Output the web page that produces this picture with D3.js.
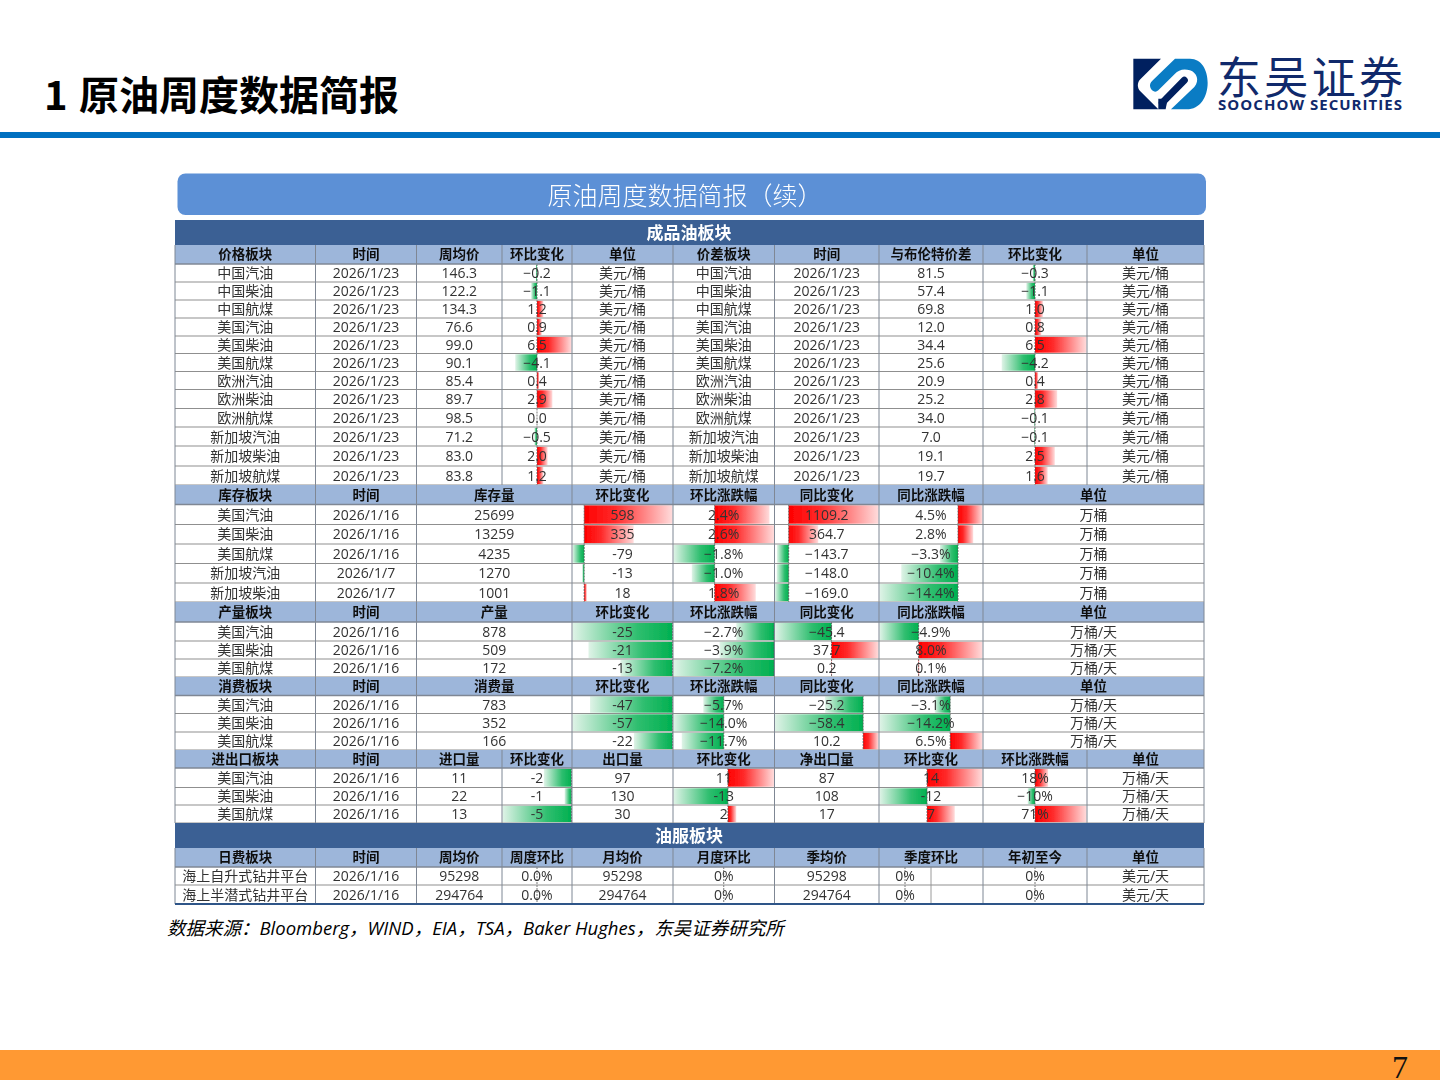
<!DOCTYPE html>
<html><head><meta charset="utf-8">
<script src="https://cdn.jsdelivr.net/npm/d3@7/dist/d3.min.js"></script>
<style>
html,body{margin:0;padding:0;background:#fff}
svg{display:block}
text{font-family:"Open Sans","Noto Sans CJK SC",sans-serif}
</style></head><body>
<script>
// ---------- data ----------
const priceNames=['中国汽油','中国柴油','中国航煤','美国汽油','美国柴油','美国航煤','欧洲汽油','欧洲柴油','欧洲航煤','新加坡汽油','新加坡柴油','新加坡航煤'];
const priceAvg=[146.3,122.2,134.3,76.6,99.0,90.1,85.4,89.7,98.5,71.2,83.0,83.8];
const priceChange=[-0.2,-1.1,1.2,0.9,6.5,-4.1,0.4,2.9,0.0,-0.5,2.0,1.2];
const spreadValue=[81.5,57.4,69.8,12.0,34.4,25.6,20.9,25.2,34.0,7.0,19.1,19.7];
const spreadChange=[-0.3,-1.1,1.0,0.8,6.5,-4.2,0.4,2.8,-0.1,-0.1,2.5,1.6];

const stockNames=['美国汽油','美国柴油','美国航煤','新加坡汽油','新加坡柴油'];
const stockDates=['2026/1/16','2026/1/16','2026/1/16','2026/1/7','2026/1/7'];
const stockLevel=[25699,13259,4235,1270,1001];
const stockWow=[598,335,-79,-13,18];
const stockWowPct=[2.4,2.6,-1.8,-1.0,1.8];
const stockYoy=[1109.2,364.7,-143.7,-148.0,-169.0];
const stockYoyPct=[4.5,2.8,-3.3,-10.4,-14.4];

const usNames=['美国汽油','美国柴油','美国航煤'];
const prodLevel=[878,509,172];
const prodWow=[-25,-21,-13];
const prodWowPct=[-2.7,-3.9,-7.2];
const prodYoy=[-45.4,37.7,0.2];
const prodYoyPct=[-4.9,8.0,0.1];

const consLevel=[783,352,166];
const consWow=[-47,-57,-22];
const consWowPct=[-5.7,-14.0,-11.7];
const consYoy=[-25.2,-58.4,10.2];
const consYoyPct=[-3.1,-14.2,6.5];

const importLevel=[11,22,13];
const importChange=[-2,-0.5,-5];
const importChangeLabels=['-2','-1','-5'];
const exportLevel=[97,130,30];
const exportChange=[11,-13,2];
const netLevel=[87,108,17];
const netChange=[14,-12,7];
const netPct=[18,-10,71];

const rigNames=['海上自升式钻井平台','海上半潜式钻井平台'];
const rigWeek=[95298,294764];
const rigWeekPct=[0,0];
const rigMonth=[95298,294764];
const rigMonthPct=[0,0];
const rigQuarter=[95298,294764];
const rigQuarterPct=[0,0];
const rigYtdPct=[0,0];

// ---------- layout ----------
const colEdges=[175,315.5,416.5,502,572,673,774.5,879,983,1087,1204];
const C={full:[[0,1],[1,2],[2,3],[3,4],[4,5],[5,6],[6,7],[7,8],[8,9],[9,10]],
         merged:[[0,1],[1,2],[2,4],[4,5],[5,6],[6,7],[7,8],[8,10]]};
const f1=d3.format('.1f'), p1=v=>d3.format('.1f')(v)+'%', p0=v=>d3.format('.0f')(v)+'%', s=v=>String(v);
const rep=(v,n)=>Array(n).fill(v);

const sections=[
 {band:'成品油板块',bandY:[220,245]},
 {headY:[245,264],spans:C.full,heads:['价格板块','时间','周均价','环比变化','单位','价差板块','时间','与布伦特价差','环比变化','单位'],
  rowEdges:[264,282,300,318,336,353.5,371.5,389.5,408.5,427,446,466,485],
  cols:[{t:priceNames},{t:rep('2026/1/23',12)},{t:priceAvg.map(f1)},{t:priceChange.map(f1),bar:priceChange,sym:true},{t:rep('美元/桶',12)},
        {t:priceNames},{t:rep('2026/1/23',12)},{t:spreadValue.map(f1)},{t:spreadChange.map(f1),bar:spreadChange,sym:true,symMax:6.5},{t:rep('美元/桶',12)}]},
 {headY:[485,504.5],spans:C.merged,heads:['库存板块','时间','库存量','环比变化','环比涨跌幅','同比变化','同比涨跌幅','单位'],
  rowEdges:[504.5,524.5,544,563.5,583,602],
  cols:[{t:stockNames},{t:stockDates},{t:stockLevel.map(s)},{t:stockWow.map(s),bar:stockWow},{t:stockWowPct.map(p1),bar:stockWowPct},
        {t:stockYoy.map(f1),bar:stockYoy},{t:stockYoyPct.map(p1),bar:stockYoyPct},{t:rep('万桶',5)}]},
 {headY:[602,622],spans:C.merged,heads:['产量板块','时间','产量','环比变化','环比涨跌幅','同比变化','同比涨跌幅','单位'],
  rowEdges:[622,641,659,677],
  cols:[{t:usNames},{t:rep('2026/1/16',3)},{t:prodLevel.map(s)},{t:prodWow.map(s),bar:prodWow},{t:prodWowPct.map(p1),bar:prodWowPct},
        {t:prodYoy.map(f1),bar:prodYoy},{t:prodYoyPct.map(p1),bar:prodYoyPct},{t:rep('万桶/天',3)}]},
 {headY:[677,695.5],spans:C.merged,heads:['消费板块','时间','消费量','环比变化','环比涨跌幅','同比变化','同比涨跌幅','单位'],
  rowEdges:[695.5,713.5,732,750],
  cols:[{t:usNames},{t:rep('2026/1/16',3)},{t:consLevel.map(s)},{t:consWow.map(s),bar:consWow},{t:consWowPct.map(p1),bar:consWowPct,sym:true},
        {t:consYoy.map(f1),bar:consYoy},{t:consYoyPct.map(p1),bar:consYoyPct},{t:rep('万桶/天',3)}]},
 {headY:[750,768],spans:C.full,heads:['进出口板块','时间','进口量','环比变化','出口量','环比变化','净出口量','环比变化','环比涨跌幅','单位'],
  rowEdges:[768,787.5,805,823],
  cols:[{t:usNames},{t:rep('2026/1/16',3)},{t:importLevel.map(s)},{t:importChangeLabels,bar:importChange},{t:exportLevel.map(s)},
        {t:exportChange.map(s),bar:exportChange},{t:netLevel.map(s)},{t:netChange.map(s),bar:netChange},{t:netPct.map(p0),bar:netPct,sym:true},{t:rep('万桶/天',3)}]},
 {band:'油服板块',bandY:[823,848]},
 {headY:[848,867],spans:C.full,heads:['日费板块','时间','周均价','周度环比','月均价','月度环比','季均价','季度环比','年初至今','单位'],
  rowEdges:[867,885,904],
  cols:[{t:rigNames},{t:rep('2026/1/16',2)},{t:rigWeek.map(s)},{t:rigWeekPct.map(p1),bar:rigWeekPct,sym:true},{t:rigMonth.map(s)},
        {t:rigMonthPct.map(p0),bar:rigMonthPct,sym:true},{t:rigQuarter.map(s)},{t:rigQuarterPct.map(p0),bar:rigQuarterPct,sym:true,half:true},{t:rigYtdPct.map(p0),bar:rigYtdPct,sym:true},{t:rep('美元/天',2)}]}
];

// ---------- drawing ----------
const svg=d3.select('body').append('svg').attr('width',1440).attr('height',1080).attr('viewBox','0 0 1440 1080');
const defs=svg.append('defs');
const blur=defs.append('filter').attr('id','soft').attr('x','-2%').attr('y','-2%').attr('width','104%').attr('height','104%');
blur.append('feGaussianBlur').attr('stdDeviation',0.4);
const gradient=(id,stops)=>{const g=defs.append('linearGradient').attr('id',id);
  stops.forEach(([o,c])=>g.append('stop').attr('offset',o).attr('stop-color',c));};
gradient('redBar',[[0,'#ff0000'],[0.35,'#ff2a2a'],[1,'#ffdcdc']]);
gradient('greenBar',[[0,'#dff3e7'],[0.65,'#2fbe6f'],[1,'#00b050']]);

// page furniture
svg.append('text').attr('x',44).attr('y',110).attr('font-size',40).attr('font-weight',700).attr('fill','#000')
   .style('font-family','"Noto Sans CJK SC"').text('1');
svg.append('text').attr('x',79).attr('y',110).attr('font-size',40).attr('font-weight',700).attr('fill','#000')
   .style('font-family','"Noto Sans CJK SC"').text('原油周度数据简报');
svg.append('rect').attr('x',0).attr('y',132).attr('width',1440).attr('height',6).attr('fill','#0070c0');
svg.append('rect').attr('x',0).attr('y',1050).attr('width',1440).attr('height',30).attr('fill','#ff9933');
svg.append('text').attr('x',1400).attr('y',1078).attr('text-anchor','middle').attr('font-size',32).attr('fill','#111')
   .style('font-family','"Liberation Serif"').text('7');

// logo
const logo=svg.append('g').attr('transform','translate(1125,52) scale(0.3333)');
logo.append('path').attr('fill','#00205f').attr('d','M25,20 L108,20 L46,82 C36,92 36,108 46,118 L100,172 L25,172 Z');
logo.append('path').attr('fill','#0a7cc4').attr('d','M150,20 L195,20 C230,20 248,55 248,92 C248,135 225,172 185,172 L138,172 L208,105 C225,85 215,62 195,55 C175,48 160,55 150,65 L100,115 C90,125 75,115 75,100 C75,92 80,88 85,83 Z');
logo.append('path').attr('fill','none').attr('stroke','#00205f').attr('stroke-width',21).attr('stroke-linecap','round').attr('d','M178,85 L112,152');
logo.append('path').attr('fill','#00205f').attr('d','M100,172 L122,172 L128,140 L100,140 Z');
svg.append('text').attr('x',1217).attr('y',94).attr('font-size',44).attr('fill','#10296b')
   .attr('textLength',186).attr('lengthAdjust','spacing').style('font-family','"Noto Sans CJK SC"').text('东吴证券');
svg.append('text').attr('x',1218).attr('y',110).attr('font-size',15).attr('font-weight',700).attr('fill','#10296b')
   .attr('textLength',184).attr('lengthAdjust','spacing').text('SOOCHOW SECURITIES');

svg.append('text').attr('x',167).attr('y',935).attr('font-size',18.5).attr('font-style','italic').attr('fill','#000')
   .text('数据来源：Bloomberg，WIND，EIA，TSA，Baker Hughes，东吴证券研究所');

// table
const T=svg.append('g').attr('filter','url(#soft)');
T.append('rect').attr('x',177.5).attr('y',173.5).attr('width',1028.5).attr('height',41.5).attr('rx',8).attr('fill','#5b90d6');
T.append('text').attr('x',685).attr('y',196).attr('dy','0.36em').attr('text-anchor','middle').attr('font-size',25).attr('fill','#fff')
 .style('font-family','"Noto Sans CJK SC"').style('font-weight',300).text('原油周度数据简报（续）');

const left=colEdges[0], right=colEdges[10];
sections.forEach(sec=>{
  if(sec.band){
    T.append('rect').attr('x',left).attr('y',sec.bandY[0]).attr('width',right-left).attr('height',sec.bandY[1]-sec.bandY[0]).attr('fill','#3a6194');
    T.append('text').attr('x',689).attr('y',(sec.bandY[0]+sec.bandY[1])/2).attr('dy','0.36em').attr('text-anchor','middle')
     .attr('font-size',17).attr('font-weight',700).attr('fill','#fff').text(sec.band);
    return;
  }
  const [h0,h1]=sec.headY, last=sec.rowEdges.length-1, top=sec.rowEdges[0], bot=sec.rowEdges[last];
  T.append('rect').attr('x',left).attr('y',h0).attr('width',right-left).attr('height',h1-h0).attr('fill','#9db6da');
  sec.spans.forEach(([a,b],i)=>{
    const x0=colEdges[a], x1=colEdges[b], col=sec.cols[i];
    T.append('text').attr('x',(x0+x1)/2).attr('y',(h0+h1)/2).attr('dy','0.36em').attr('text-anchor','middle')
     .attr('font-size',13.5).attr('font-weight',700).attr('fill','#111').text(sec.heads[i]);
    // body rows
    const band=d3.range(last);
    const cellX1=col.half?(x0+x1)/2:x1;
    if(col.bar){
      const lo=d3.min(col.bar), hi=d3.max(col.bar), m=col.symMax||Math.max(Math.abs(lo),Math.abs(hi))||1;
      const dom=col.sym?[-m,m]:[Math.min(0,lo),Math.max(0,hi)];
      const sx=d3.scaleLinear().domain(dom).range([x0+0.5,cellX1-0.5]);
      T.append('g').selectAll('rect').data(band).join('rect')
       .attr('x',r=>Math.min(sx(0),sx(col.bar[r])))
       .attr('width',r=>Math.abs(sx(col.bar[r])-sx(0)))
       .attr('y',r=>sec.rowEdges[r]+0.8).attr('height',r=>sec.rowEdges[r+1]-sec.rowEdges[r]-1.6)
       .attr('fill',r=>col.bar[r]>=0?'url(#redBar)':'url(#greenBar)');
      T.append('g').selectAll('line').data(band).join('line')
       .attr('x1',sx(0)).attr('x2',sx(0))
       .attr('y1',r=>sec.rowEdges[r]).attr('y2',r=>sec.rowEdges[r+1])
       .attr('stroke','#555').attr('stroke-width',0.8).attr('stroke-dasharray','2 1');
    }
    if(col.half){
      T.append('line').attr('x1',cellX1).attr('x2',cellX1).attr('y1',top).attr('y2',bot).attr('stroke','#9a9a9a').attr('stroke-width',1);
    }
    T.append('g').selectAll('text').data(band).join('text')
     .attr('x',(x0+cellX1)/2).attr('y',r=>(sec.rowEdges[r]+sec.rowEdges[r+1])/2).attr('dy','0.36em')
     .attr('text-anchor','middle').attr('font-size',14).attr('fill','#333').text(r=>col.t[r]);
  });
  // horizontal rules
  T.append('g').selectAll('line').data(sec.rowEdges.slice(1,-1)).join('line')
   .attr('x1',left).attr('x2',right).attr('y1',d=>d).attr('y2',d=>d).attr('stroke','#8f8f8f').attr('stroke-width',1.1);
  T.append('line').attr('x1',left).attr('x2',right).attr('y1',h1).attr('y2',h1).attr('stroke','#7f8794').attr('stroke-width',1.6);
  // vertical rules
  const vEdges=[...new Set(sec.spans.map(d=>d[0]).concat(10))];
  T.append('g').selectAll('line').data(vEdges).join('line')
   .attr('x1',i=>colEdges[i]).attr('x2',i=>colEdges[i]).attr('y1',h0).attr('y2',bot)
   .attr('stroke','#7f8794').attr('stroke-width',1);
  T.append('line').attr('x1',left).attr('x2',right).attr('y1',bot).attr('y2',bot)
   .attr('stroke',bot===904?'#2f5588':'#8f8f8f').attr('stroke-width',bot===904?2:1.1);
});
</script>
</body></html>
